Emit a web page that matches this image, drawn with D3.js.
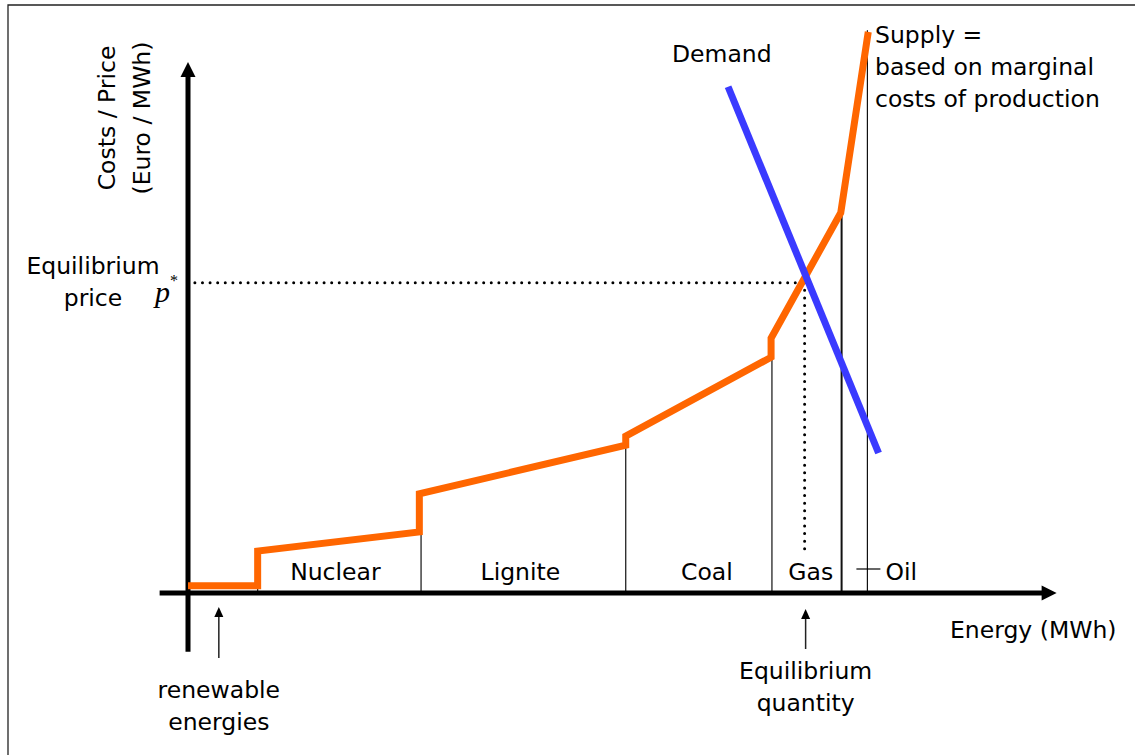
<!DOCTYPE html>
<html>
<head>
<meta charset="utf-8">
<script src="https://cdn.jsdelivr.net/npm/d3@7"></script>
<style>
body { margin: 0; background: #fff; }
text { font-family: "DejaVu Sans", sans-serif; font-size: 23.5px; fill: #000; }
</style>
</head>
<body>
<div id="chart"></div>
<script>
// merit order supply curve: energy (share of capacity) vs marginal cost (share of max)
var supplyEnergy = [0, 8.1, 8.1, 26.9, 26.9, 50.9, 50.9, 67.8, 67.8, 75.9, 79.1];
var supplyPrice  = [1.3, 1.3, 7.5, 10.9, 17.7, 26.4, 28.0, 42.1, 45.5, 67.9, 100.2];

// power plant blocks: where each block ends and its cost at the end
var plants   = ["renewable energies", "Nuclear", "Lignite", "Coal", "Gas", "Oil"];
var plantEnd = [8.1, 27.1, 50.9, 67.9, 76.0, 79.0];
var plantTop = [1.3, 10.9, 26.4, 42.1, 67.9, 100.5];

// demand line
var demandEnergy = [62.8, 80.3];
var demandPrice  = [90.4, 25.0];

// equilibrium
var eqEnergy = 71.7, eqPrice = 55.4;

var width = 1135, height = 755;
var svg = d3.select("#chart").append("svg")
    .attr("width", width)
    .attr("height", height);

var x = d3.scaleLinear().domain([0, 100]).range([188, 1048]);
var y = d3.scaleLinear().domain([0, 100]).range([593, 33]);

// frame (top and left edge only)
svg.append("path")
    .attr("d", "M8," + height + "V5H" + width)
    .attr("fill", "none")
    .attr("stroke", "#222")
    .attr("stroke-width", 1.3);

// block boundaries
svg.append("g").selectAll("line")
    .data(plantEnd)
    .enter()
    .append("line")
    .attr("x1", function(d){ return x(d); })
    .attr("x2", function(d){ return x(d); })
    .attr("y1", y(0))
    .attr("y2", function(d, i){ return y(plantTop[i]); })
    .attr("stroke", "#111")
    .attr("stroke-width", function(d, i){ return i == 4 ? 2 : 1.2; });

// dotted equilibrium guides
var dotted = svg.append("g")
    .attr("stroke", "#000")
    .attr("stroke-width", 3)
    .attr("stroke-linecap", "round")
    .attr("stroke-dasharray", "0,7.6")
    .attr("fill", "none");
dotted.append("line")
    .attr("x1", x(0.8)).attr("x2", x(eqEnergy))
    .attr("y1", y(eqPrice)).attr("y2", y(eqPrice));
dotted.append("line")
    .attr("x1", x(eqEnergy)).attr("x2", x(eqEnergy))
    .attr("y1", y(eqPrice)).attr("y2", y(7.9));

// axes with arrow heads
var xEnd = 101, yEnd = 94.8, head = 15;
svg.append("line")
    .attr("x1", x(-3.3)).attr("x2", x(xEnd) - head + 1)
    .attr("y1", y(0)).attr("y2", y(0))
    .attr("stroke", "#000").attr("stroke-width", 5);
svg.append("path")
    .attr("d", "M" + x(xEnd) + "," + y(0) + "l" + (-head) + ",-7.5v15z")
    .attr("fill", "#000");
svg.append("line")
    .attr("x1", x(0)).attr("x2", x(0))
    .attr("y1", y(-10.5)).attr("y2", y(yEnd) + head - 1)
    .attr("stroke", "#000").attr("stroke-width", 5);
svg.append("path")
    .attr("d", "M" + x(0) + "," + y(yEnd) + "l-7.5," + head + "h15z")
    .attr("fill", "#000");

// supply curve
var supply = supplyEnergy.map(function(d, i){ return [d, supplyPrice[i]]; });
var line = d3.line()
    .x(function(d){ return x(d[0]); })
    .y(function(d){ return y(d[1]); });
svg.append("path")
    .attr("d", line(supply))
    .attr("fill", "none")
    .attr("stroke", "#ff6600")
    .attr("stroke-width", 7)
    .attr("stroke-linejoin", "miter");

// demand
var demand = demandEnergy.map(function(d, i){ return [d, demandPrice[i]]; });
svg.append("path")
    .attr("d", line(demand))
    .attr("fill", "none")
    .attr("stroke", "#3a3aff")
    .attr("stroke-width", 7);

// block labels, centred in their block with a small nudge
var nudge = [-4, -3, 8, 4];
svg.append("g").selectAll("text")
    .data(plants.slice(1, 5))
    .enter()
    .append("text")
    .attr("x", function(d, i){ return x((plantEnd[i] + plantEnd[i + 1]) / 2) + nudge[i]; })
    .attr("y", y(0) - 13)
    .attr("text-anchor", "middle")
    .text(function(d){ return d; });

var oilX = x(plantEnd[5]);
svg.append("line")
    .attr("x1", oilX - 11).attr("x2", oilX + 13)
    .attr("y1", y(0) - 24).attr("y2", y(0) - 24)
    .attr("stroke", "#000").attr("stroke-width", 1.2);
svg.append("text")
    .attr("x", oilX + 18)
    .attr("y", y(0) - 13)
    .text(plants[5]);

// small pointer arrows below the axis
function pointer(px, top, bottom) {
    svg.append("line")
        .attr("x1", px).attr("x2", px)
        .attr("y1", bottom).attr("y2", top + 8)
        .attr("stroke", "#222").attr("stroke-width", 1.5);
    svg.append("path")
        .attr("d", "M" + px + "," + top + "l-4.5,10h9z")
        .attr("fill", "#000");
}
var renX = x(plantEnd[0] / 2) - 4;
pointer(renX, 607, 658);
pointer(x(eqEnergy) + 1, 609, 649);

function label(lines, px, py, anchor) {
    var t = svg.append("text")
        .attr("x", px).attr("y", py)
        .attr("text-anchor", anchor || "middle");
    lines.forEach(function(s, i){
        t.append("tspan").attr("x", px).attr("dy", i == 0 ? 0 : 32).text(s);
    });
}
label(["renewable", "energies"], renX, 698);
label(["Equilibrium", "quantity"], x(eqEnergy) + 1, 679);
label(["Energy (MWh)"], 950, 638, "start");
label(["Demand"], 672, 62, "start");
label(["Supply =", "based on marginal", "costs of production"], 875, 43, "start");
label(["Equilibrium", "price"], 93, 274);

// y axis title
var yt = svg.append("text")
    .attr("transform", "translate(115,118) rotate(-90)")
    .attr("text-anchor", "middle");
yt.append("tspan").attr("x", 0).attr("y", 0).text("Costs / Price");
yt.append("tspan").attr("x", 0).attr("y", 35).text("(Euro / MWh)");

// p*
var p = svg.append("text")
    .attr("x", 155).attr("y", 302)
    .style("font-family", "'Liberation Serif', serif")
    .style("font-style", "italic")
    .style("font-size", "30px");
p.append("tspan").text("p");
p.append("tspan").attr("dy", -16).style("font-size", "16px").style("font-style", "normal").text("*");
</script>
</body>
</html>
